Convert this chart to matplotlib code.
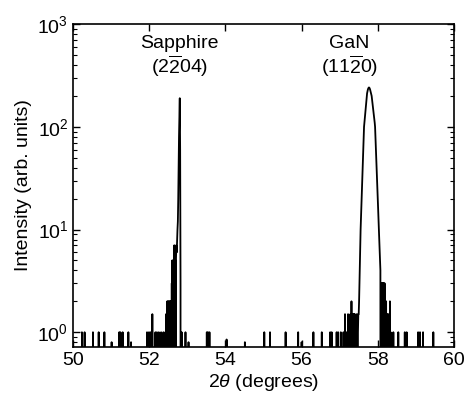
import numpy as np
import matplotlib
matplotlib.use('Agg')
import matplotlib.pyplot as plt

plt.rcParams['font.family'] = ['Liberation Sans', 'DejaVu Sans']
plt.rcParams['mathtext.fontset'] = 'custom'
plt.rcParams['mathtext.rm'] = 'Liberation Sans'
plt.rcParams['mathtext.it'] = 'Liberation Sans:italic'

# einzelne Zaehlereignisse (Position 2theta, Intensitaet)
spike_pos = [50.23, 50.30, 50.52, 50.67, 50.82, 51.01, 51.21, 51.24, 51.30, 51.45,
             51.52, 51.94, 51.99, 52.03, 52.08, 52.16, 52.20, 52.25, 52.31, 52.37,
             52.42, 52.44, 52.45, 52.47, 52.48, 52.49, 52.51, 52.52, 52.53, 52.54,
             52.55, 52.57, 52.58, 52.59, 52.60, 52.61, 52.62, 52.63, 52.64, 52.65,
             52.66, 52.67, 52.68, 52.69,
             52.85, 52.95, 53.03, 53.51, 53.54, 53.58, 54.03, 54.51, 55.02, 55.17,
             55.58, 55.91, 56.00, 56.31, 56.53, 56.75, 56.79, 56.92, 56.96, 57.03,
             57.10, 57.14, 57.18, 57.22, 57.25, 57.28, 57.31, 57.33, 57.36, 57.38,
             57.40, 57.43, 57.45,
             58.09, 58.11, 58.12, 58.13, 58.14, 58.15, 58.16, 58.17, 58.18, 58.19,
             58.20, 58.21, 58.22, 58.23, 58.24, 58.25, 58.27, 58.28, 58.30, 58.32,
             58.34, 58.41, 58.54, 58.71, 58.76, 59.06, 59.11, 59.19, 59.46]
spike_val = [1, 1, 1, 1, 1, 0.8, 1, 1, 1, 1,
             0.8, 1, 1, 1, 1.5, 1, 1, 1, 1, 1,
             1, 1.5, 1, 2, 1, 2, 2, 1, 2, 1.5,
             2, 2, 1, 3, 5, 2, 5, 3, 5, 7,
             5, 7, 5, 5,
             1, 1, 0.8, 1, 1, 1, 0.85, 0.8, 1, 1,
             1, 1, 0.8, 1, 1, 1, 1, 1, 1, 1,
             1, 1.5, 1, 1.5, 1, 1.5, 2, 1.5, 1.5, 1.5,
             1.5, 1, 1.5,
             3, 3, 2, 3, 3, 2, 3, 1.5, 3, 2,
             2, 1.5, 2, 1.5, 1, 1.5, 1, 1.5, 1, 2,
             1, 1, 1, 1, 1, 1, 1, 1, 1]

# Saphir-Reflex (2-204)
sapphire_x = [52.70, 52.71, 52.72, 52.73, 52.74, 52.75, 52.76, 52.77, 52.78, 52.79,
              52.80, 52.81, 52.82, 52.83]
sapphire_y = [5, 7, 6, 8, 10, 12, 20, 40, 80, 130, 190, 60, 3, 0]

# GaN-Reflex (11-20)
gan_x = [57.47, 57.48, 57.49, 57.50, 57.51, 57.52, 57.53, 57.54, 57.55, 57.56,
         57.57, 57.58, 57.59, 57.60, 57.61, 57.62, 57.63, 57.64, 57.65, 57.66,
         57.67, 57.68, 57.69, 57.70, 57.71, 57.72, 57.73, 57.74, 57.75, 57.76,
         57.77, 57.78, 57.79, 57.80, 57.81, 57.82, 57.83, 57.84, 57.85, 57.86,
         57.87, 57.88, 57.89, 57.90, 57.91, 57.92, 57.93, 57.94, 57.95, 57.96,
         57.97, 57.98, 57.99, 58.00, 58.01, 58.02, 58.03, 58.04, 58.05, 58.06,
         58.07, 58.08]
gan_y = [0, 1, 1.5, 1.5, 2, 3, 4.5, 7, 10, 13,
         17, 22, 28, 36, 46, 60, 77, 100, 110, 122,
         135, 150, 165, 182, 200, 212, 222, 230, 236, 240,
         242, 240, 236, 230, 222, 214, 206, 200, 186, 174,
         162, 150, 140, 130, 120, 110, 100, 79, 63, 50,
         40, 32, 25, 20, 16, 13, 10, 8, 6, 5,
         4, 0]

# Messkurve zusammensetzen
pts = []
for p, v in zip(spike_pos, spike_val):
    pts += [(p - 0.003, 0), (p, v), (p + 0.003, 0)]
pts += list(zip(sapphire_x, sapphire_y))
pts += list(zip(gan_x, gan_y))
pts.append((50.0, 0))
pts.append((60.0, 0))
pts.sort()
xs = np.array([q[0] for q in pts])
ys = np.array([q[1] for q in pts], dtype=float)

fig = plt.figure(figsize=(4.66, 3.96), dpi=100)
ax = fig.add_axes([0.157, 0.124, 0.817, 0.815])
ax.plot(xs, ys, color='black', lw=1.3)
ax.set_yscale('log', nonpositive='clip')
ax.set_xlim(50, 60)
ax.set_ylim(0.72, 1000)
ax.set_xticks([50, 52, 54, 56, 58, 60])

ax.tick_params(which='both', direction='in', top=True, right=True, labelsize=14)
ax.tick_params(which='major', length=5, width=1)
ax.tick_params(which='minor', length=3, width=0.8)
for s in ax.spines.values():
    s.set_linewidth(1.2)

ax.set_xlabel(r'2$\it{\theta}$ (degrees)', fontsize=14, labelpad=2)
ax.set_ylabel('Intensity (arb. units)', fontsize=14, labelpad=4)

ax.text(52.8, 650, 'Sapphire', ha='center', va='center', fontsize=14)
ax.text(52.8, 390, r'(2$\overline{\mathrm{2}}$04)', ha='center', va='center', fontsize=14)
ax.text(57.25, 650, 'GaN', ha='center', va='center', fontsize=14)
ax.text(57.25, 390, r'(11$\overline{\mathrm{2}}$0)', ha='center', va='center', fontsize=14)

fig.savefig('out.png', dpi=100)
